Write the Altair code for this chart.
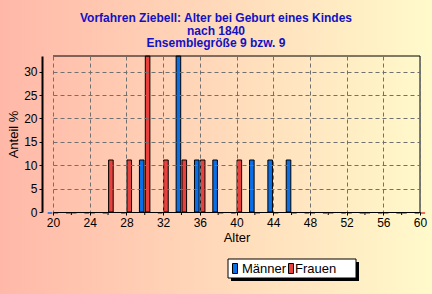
import altair as alt
import pandas as pd

# ---- data ----
ages = [20, 22, 24, 26, 28, 30, 32, 34, 36, 38, 40, 42, 44, 46, 48, 50, 52, 54, 56, 58, 60]
maenner = [0, 0, 0, 0, 0, 11.11, 0, 33.33, 11.11, 11.11, 0, 11.11, 11.11, 11.11, 0, 0, 0, 0, 0, 0, 0]
frauen = [0, 0, 0, 11.11, 11.11, 33.33, 11.11, 11.11, 11.11, 0, 11.11, 0, 0, 0, 0, 0, 0, 0, 0, 0, 0]
series = ["Männer", "Frauen"]
colors = ["#0a6ee6", "#e8403c"]
x_labels = [20, 24, 28, 32, 36, 40, 44, 48, 52, 56, 60]
x_minor = [22, 26, 30, 34, 38, 42, 46, 50, 54, 58]
y_ticks = [0, 5, 10, 15, 20, 25, 30]
title_lines = ["Vorfahren Ziebell: Alter bei Geburt eines Kindes", "nach 1840", "Ensemblegröße 9 bzw. 9"]

rows = []
for a, m, f in zip(ages, maenner, frauen):
    rows.append({"Alter": a, "Serie": "Männer", "Anteil": m})
    rows.append({"Alter": a, "Serie": "Frauen", "Anteil": f})
df = pd.DataFrame(rows)
leg_df = pd.DataFrame({"Serie": series, "i": list(range(len(series)))})

W, H = 367, 156
PL, PT = 53, 56
FONT = "Liberation Sans"

xscale = alt.Scale(domain=[20, 60], nice=False, zero=False)
yscale = alt.Scale(domain=[0, 33.34], nice=False)
cscale = alt.Scale(domain=series, range=colors)

bg = alt.Chart().mark_rect(
    fill=alt.LinearGradient(
        gradient="linear", x1=0, y1=0, x2=1, y2=0,
        stops=[alt.GradientStop(offset=0, color="#ffb8a8"),
               alt.GradientStop(offset=1, color="#fffacb")]),
    clip=False,
).encode(x=alt.value(-PL), x2=alt.value(432 - PL), y=alt.value(-PT), y2=alt.value(294 - PT))

base = alt.Chart(df).transform_calculate(
    x0="datum.Alter + (datum.Serie == 'Männer' ? -0.58 : 0.06)",
    x1="datum.Alter + (datum.Serie == 'Männer' ? -0.08 : 0.56)",
)

bars = base.transform_filter("datum.Anteil > 0").mark_bar(
    stroke="black", strokeWidth=1, clip=False
).encode(
    x=alt.X("x0:Q", scale=xscale, title="Alter",
            axis=alt.Axis(values=x_labels, tickCount=len(x_labels), zindex=1,
                          labelOverlap=False, labelFlush=False,
                          gridDash=[4, 3], gridColor="#707070",
                          domainColor="black", tickColor="black", tickSize=3,
                          labelFontSize=12, titleFontSize=13, labelPadding=2, titlePadding=3,
                          labelColor="black", titleColor="black", titleFontWeight="normal",
                          labelFont=FONT, titleFont=FONT)),
    x2="x1:Q",
    y=alt.Y("Anteil:Q", scale=yscale, title="Anteil %",
            axis=alt.Axis(values=y_ticks, tickCount=len(y_ticks), offset=11, domainWidth=2,
                          domainColor="black", zindex=1,
                          labelOverlap=False, labelFlush=False,
                          tickColor="black", tickSize=3, gridDash=[4, 3], gridColor="#707070",
                          labelFontSize=12, titleFontSize=13, labelPadding=2, titlePadding=3,
                          labelColor="black", titleColor="black", titleFontWeight="normal",
                          labelFont=FONT, titleFont=FONT)),
    y2=alt.datum(0),
    color=alt.Color("Serie:N", scale=cscale, sort=series, legend=None),
)

zeros = base.transform_filter("datum.Anteil == 0").mark_rule(strokeWidth=1.5, yOffset=1, clip=False).encode(
    x=alt.X("x0:Q", scale=xscale),
    x2="x1:Q",
    y=alt.Y("Anteil:Q", scale=yscale),
    color=alt.Color("Serie:N", scale=cscale, legend=None),
)

minor = alt.Chart(pd.DataFrame({"t": x_minor})).mark_rule(color="black", strokeWidth=1, clip=False).encode(
    x=alt.X("t:Q", scale=xscale),
    y=alt.value(H), y2=alt.value(H + 3),
)

frame_top = alt.Chart().mark_rule(color="black", strokeWidth=1).encode(
    x=alt.value(0), x2=alt.value(W), y=alt.value(0))
frame_right = alt.Chart().mark_rule(color="black", strokeWidth=1).encode(
    x=alt.value(W), y=alt.value(0), y2=alt.value(H))

# legend (box with shadow, drawn by hand)
LX, LY = 228 - PL, 259 - PT
shadow = alt.Chart().mark_rect(color="black", clip=False).encode(
    x=alt.value(LX + 3), x2=alt.value(LX + 131), y=alt.value(LY + 3), y2=alt.value(LY + 22))
box = alt.Chart().mark_rect(fill="white", stroke="black", strokeWidth=1, clip=False).encode(
    x=alt.value(LX), x2=alt.value(LX + 128), y=alt.value(LY), y2=alt.value(LY + 19))
leg_base = alt.Chart(leg_df).transform_calculate(
    sx=f"{LX + 4.5} + datum.i * 56", sx2=f"{LX + 9.5} + datum.i * 56", tx=f"{LX + 14} + datum.i * 53")
leg_sym = leg_base.mark_rect(stroke="black", strokeWidth=1, clip=False).encode(
    x=alt.X("sx:Q", scale=None), x2="sx2:Q",
    y=alt.value(LY + 4.5), y2=alt.value(LY + 14.5),
    color=alt.Color("Serie:N", scale=cscale, legend=None),
)
leg_txt = leg_base.mark_text(font=FONT, fontSize=13, color="black", align="left",
                             baseline="middle", clip=False).encode(
    x=alt.X("tx:Q", scale=None), y=alt.value(LY + 10), text="Serie:N")

title_y = [-38, -25.5, -13]
titles = [
    alt.Chart().mark_text(font=FONT, fontSize=12, fontWeight="bold", color="#1212c4",
                          align="center", baseline="middle").encode(
        x=alt.value(216 - PL), y=alt.value(ty), text=alt.value(t))
    for t, ty in zip(title_lines, title_y)
]

chart = alt.layer(bg, bars, zeros, minor, frame_top, frame_right,
                  shadow, box, leg_sym, leg_txt, *titles).properties(
    width=W, height=H,
    padding={"left": PL, "top": PT, "right": 432 - PL - W, "bottom": 294 - PT - H},
    autosize=alt.AutoSizeParams(type="none"),
).configure_view(stroke=None).configure(background="#fff8c8")

chart.save("out.html", embed_options={"renderer": "svg", "actions": False})
